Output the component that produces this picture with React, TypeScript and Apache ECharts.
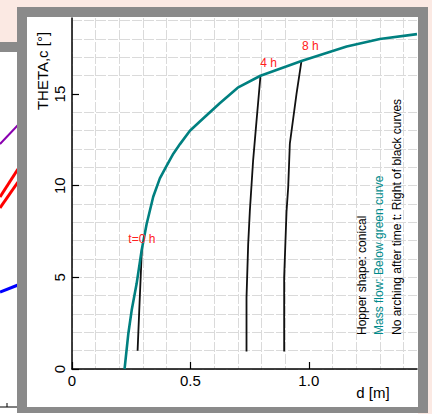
import React, { useEffect, useRef } from "react";
import * as echarts from "echarts";

// Green boundary curve (mass flow limit)
const CURVE_D = [0.222, 0.238, 0.252, 0.273, 0.294, 0.315, 0.343, 0.371, 0.4, 0.428, 0.456, 0.498, 0.54, 0.624, 0.7, 0.796, 0.969, 1.16, 1.3, 1.457];
const CURVE_THETA = [0, 1.94, 3.2, 4.66, 6.47, 7.9, 9.4, 10.4, 11.1, 11.75, 12.27, 13.0, 13.5, 14.5, 15.35, 16.0, 16.8, 17.6, 18.0, 18.27];

// Black arching curves
const T0_D = [0.277, 0.284, 0.295];
const T0_THETA = [1.0, 3.2, 6.5];
const T4_D = [0.737, 0.737, 0.744, 0.751, 0.765, 0.779, 0.796];
const T4_THETA = [0.95, 3.9, 6.8, 8.6, 11.4, 13.5, 16.0];
const T8_D = [0.896, 0.896, 0.906, 0.913, 0.92, 0.948, 0.969];
const T8_THETA = [0.95, 5.0, 8.6, 9.9, 12.3, 15.0, 16.8];

const TIME_LABELS = ["t=0 h", "4 h", "8 h"];
const LABEL_OFFSETS = [[0, 0], [8, -2], [9, -4]];

const X_TICKS = [0, 0.5, 1.0];
const Y_TICKS = [0, 5, 10, 15];
const X_MAX = 1.457;
const Y_MAX = 19.15;

const NOTES = ["Hopper shape: conical", "Mass flow: Below green curve", "No arching after time t: Right of black curves"];
const NOTE_COLORS = ["#000000", "#008b8b", "#000000"];

const FONT = "'Liberation Sans', Arial, sans-serif";
const TEAL = "#008080";
const GRID_COLOR = "#dadada";
const LABEL_RED = "#ff2020";

const zip = (a: number[], b: number[]) => a.map((v, i) => [v, b[i]]);

export default function App() {
  const ref = useRef<HTMLDivElement>(null);
  useEffect(() => {
    if (!ref.current) return;
    const chart = echarts.init(ref.current, null, { renderer: "svg" });
    const black = [zip(T0_D, T0_THETA), zip(T4_D, T4_THETA), zip(T8_D, T8_THETA)];
    const labelData = black.map((pts, i) => ({
      value: pts[pts.length - 1],
      label: { offset: LABEL_OFFSETS[i], formatter: TIME_LABELS[i] },
    }));
    const gridLine = { color: GRID_COLOR, width: 1, type: [10, 2] as any };
    const noteX = [362, 379, 397];
    const option: any = {
      animation: false,
      backgroundColor: "#ffffff",
      textStyle: { fontFamily: FONT },
      grid: { left: 72, right: 15, top: 18, bottom: 45, containLabel: false },
      xAxis: {
        type: "value",
        min: 0,
        max: X_MAX,
        interval: 0.5,
        axisLine: { show: true, onZero: false, lineStyle: { color: "#000", width: 1.5 } },
        axisTick: { show: true, inside: true, length: 7, customValues: X_TICKS, lineStyle: { color: "#000", width: 1.2 } },
        axisLabel: {
          customValues: X_TICKS,
          margin: 4,
          fontSize: 15,
          color: "#000",
          fontFamily: FONT,
          formatter: (v: number) => (v === 0 ? "0" : v.toFixed(1)),
        },
        splitLine: { show: true, showMaxLine: false, lineStyle: gridLine },
        minorTick: { show: false, splitNumber: 5 },
        minorSplitLine: { show: true, lineStyle: gridLine },
      },
      yAxis: {
        type: "value",
        min: 0,
        max: Y_MAX,
        interval: 5,
        axisLine: { show: true, onZero: false, lineStyle: { color: "#000", width: 1.5 } },
        axisTick: { show: true, inside: true, length: 7, customValues: Y_TICKS, lineStyle: { color: "#000", width: 1.2 } },
        axisLabel: {
          customValues: Y_TICKS,
          margin: 5,
          rotate: 90,
          fontSize: 15,
          color: "#000",
          fontFamily: FONT,
          formatter: (v: number) => String(v),
        },
        splitLine: { show: true, showMaxLine: false, lineStyle: gridLine },
        minorTick: { show: false, splitNumber: 5 },
        minorSplitLine: { show: true, lineStyle: gridLine },
      },
      series: [
        {
          type: "line",
          data: zip(CURVE_D, CURVE_THETA),
          showSymbol: false,
          lineStyle: { color: TEAL, width: 2.6 },
          z: 3,
        },
        ...black.map((pts) => ({
          type: "line",
          data: pts,
          showSymbol: false,
          lineStyle: { color: "#111", width: 1.8 },
          z: 2,
        })),
        {
          type: "scatter",
          data: labelData,
          symbolSize: 0,
          itemStyle: { color: LABEL_RED, opacity: 1 },
          label: { show: true, position: "top", color: LABEL_RED, opacity: 1, fontSize: 12, fontFamily: FONT, textBorderWidth: 0 },
          emphasis: { disabled: true },
          z: 4,
        },
      ],
      graphic: [
        // background chrome
        { type: "rect", z: -100, shape: { x: 0, y: 0, width: 432, height: 414 }, style: { fill: "#ffffff" } },
        { type: "rect", z: -99, shape: { x: 0, y: 0, width: 432, height: 42 }, style: { fill: "#fbe9e3" } },
        { type: "rect", z: -99, shape: { x: 418, y: 0, width: 14, height: 414 }, style: { fill: "#fbe9e3" } },
        { type: "rect", z: -98, shape: { x: 0, y: 42, width: 20, height: 10 }, style: { fill: "#8a8a8a" } },
        { type: "line", z: -98, shape: { x1: 0, y1: 144, x2: 18, y2: 125 }, style: { stroke: "#8a00b0", lineWidth: 2 } },
        { type: "line", z: -98, shape: { x1: 0, y1: 197, x2: 18, y2: 169 }, style: { stroke: "#ff0000", lineWidth: 3 } },
        { type: "line", z: -98, shape: { x1: 0, y1: 208, x2: 18, y2: 182 }, style: { stroke: "#ff0000", lineWidth: 3 } },
        { type: "line", z: -98, shape: { x1: 0, y1: 292, x2: 18, y2: 285 }, style: { stroke: "#0000ff", lineWidth: 3 } },
        { type: "line", z: -98, shape: { x1: 0, y1: 407, x2: 18, y2: 407 }, style: { stroke: "#000", lineWidth: 1 } },
        { type: "line", z: -98, shape: { x1: 7, y1: 403, x2: 7, y2: 407 }, style: { stroke: "#000", lineWidth: 1 } },
        { type: "rect", z: -97, shape: { x: 17, y: 7, width: 411, height: 406 }, style: { fill: "#8a8a8a" } },
        { type: "rect", z: -96, shape: { x: 27, y: 17, width: 391, height: 390 }, style: { fill: "#ffffff" } },
        // titles
        {
          type: "text", z: 100, x: 42, y: 71, rotation: Math.PI / 2,
          style: { text: "THETA,c [°]", fontSize: 15, fill: "#000", align: "center", verticalAlign: "middle", fontFamily: FONT },
        },
        {
          type: "text", z: 100, x: 373, y: 392,
          style: { text: "d [m]", fontSize: 15, fill: "#000", align: "center", verticalAlign: "middle", fontFamily: FONT },
        },
        ...NOTES.map((t, i) => ({
          type: "text", z: 100, x: noteX[i], y: 335, rotation: Math.PI / 2,
          style: { text: t, fontSize: 12, fill: NOTE_COLORS[i], align: "left", verticalAlign: "middle", fontFamily: FONT },
        })),
      ],
    };
    chart.setOption(option);
    return () => chart.dispose();
  }, []);
  return <div ref={ref} style={{ position: "fixed", left: 0, top: 0, width: 432, height: 414 }} />;
}
